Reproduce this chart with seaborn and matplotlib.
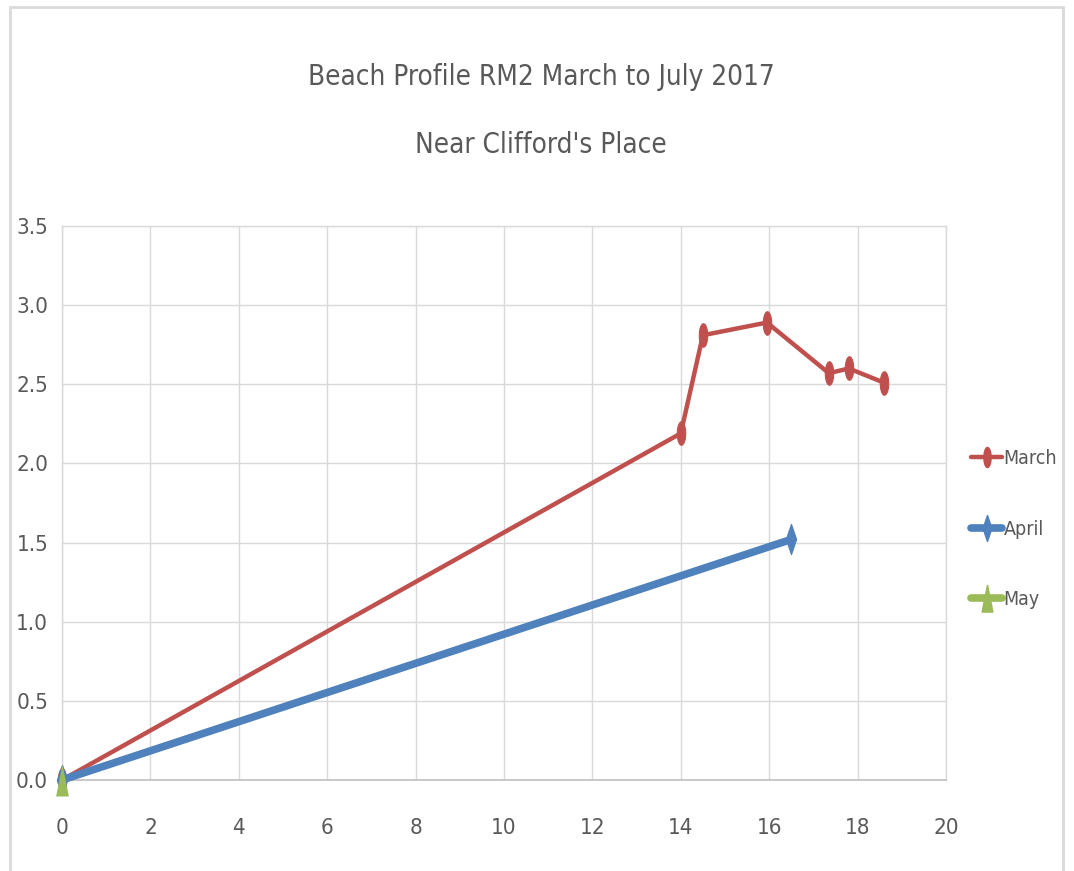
import numpy as np
import pandas as pd
import matplotlib
matplotlib.use('Agg')
import matplotlib.pyplot as plt
from matplotlib.lines import Line2D
from matplotlib.patches import Rectangle
import seaborn as sns

# values
march_x = [0, 14.0, 14.5, 15.95, 17.35, 17.8, 18.6]
march_y = [0, 2.19, 2.81, 2.89, 2.57, 2.60, 2.51]
april_x = [0, 16.5]
april_y = [0, 1.52]
may_x = [0]
may_y = [0]

series_names = ['March', 'April', 'May']
x_ticks = [0, 2, 4, 6, 8, 10, 12, 14, 16, 18, 20]
y_ticks = [0.0, 0.5, 1.0, 1.5, 2.0, 2.5, 3.0, 3.5]

title_lines = ['Beach Profile RM2 March to July 2017', "Near Clifford's Place"]

# squeezed marker shapes (the original is horizontally compressed)
t = np.linspace(0, 2 * np.pi, 40)
ellipse = list(zip(0.36 * np.cos(t), np.sin(t)))
diamond = [(0, 1), (0.34, 0), (0, -1), (-0.34, 0), (0, 1)]
triangle = [(0, 1), (0.4, -1), (-0.4, -1), (0, 1)]

style = {
    'March': {'color': '#C0504D', 'lw': 3.2, 'marker': ellipse, 'ms': 17},
    'April': {'color': '#4F81BD', 'lw': 5.5, 'marker': diamond, 'ms': 22},
    'May': {'color': '#9BBB59', 'lw': 5.5, 'marker': triangle, 'ms': 23},
}

sns.set_theme(style='white')
plt.rcParams['font.family'] = ['DejaVu Sans']
plt.rcParams['font.stretch'] = 'condensed'
text_color = '#595959'

fig = plt.figure(figsize=(10.74, 8.71), dpi=100)
fig.patches.append(Rectangle((10 / 1074, -0.01), 1053 / 1074, 1.01 - 7 / 871,
                             transform=fig.transFigure, fill=False,
                             edgecolor='#d9d9d9', linewidth=2))
ax = fig.add_axes([62 / 1074, 1 - 780 / 871, 884 / 1074, 554 / 871])

data = {
    'March': (march_x, march_y),
    'April': (april_x, april_y),
    'May': (may_x, may_y),
}
for i, name in enumerate(series_names):
    xs, ys = data[name]
    st = style[name]
    df = pd.DataFrame({'x': xs, 'y': ys})
    if len(df) > 1:
        sns.lineplot(data=df, x='x', y='y', ax=ax, sort=False, estimator=None,
                     color=st['color'], linewidth=st['lw'],
                     marker=st['marker'], markersize=st['ms'],
                     markeredgecolor=st['color'], markerfacecolor=st['color'],
                     zorder=3 + i)
    else:
        sns.scatterplot(data=df, x='x', y='y', ax=ax, color=st['color'],
                        marker=st['marker'], s=st['ms'] ** 2, linewidth=0,
                        zorder=3 + i)

ax.set_xlim(0, 20)
ax.set_ylim(0, 3.5)
ax.set_xticks(x_ticks)
ax.set_yticks(y_ticks)
ax.set_xticklabels([str(v) for v in x_ticks])
ax.set_yticklabels([f'{v:.1f}' for v in y_ticks])
ax.tick_params(axis='both', length=0, labelsize=16, labelcolor=text_color)
ax.tick_params(axis='x', pad=27)
ax.tick_params(axis='y', pad=10)
ax.set_xlabel('')
ax.set_ylabel('')
ax.grid(True, color='#d9d9d9', linewidth=1)
ax.set_axisbelow(True)
for side in ['top', 'right', 'left']:
    ax.spines[side].set_color('#d9d9d9')
    ax.spines[side].set_linewidth(1)
ax.spines['bottom'].set_color('#bfbfbf')
ax.spines['bottom'].set_linewidth(1.2)
for c in ax.collections + ax.lines:
    c.set_clip_on(False)

handles = [Line2D([0], [0], color=style[n]['color'], linewidth=style[n]['lw'],
                  marker=style[n]['marker'], markersize=style[n]['ms'] * 0.85)
           for n in series_names]
leg = ax.legend(handles, series_names, loc='center left', bbox_to_anchor=(1.02, 0.453),
                frameon=False, fontsize=14, labelspacing=2.65, handlelength=1.55,
                handletextpad=0.1, labelcolor=text_color, borderaxespad=0)

fig.text(541 / 1074, 1 - 77 / 871, title_lines[0], ha='center', va='center',
         fontsize=20, color=text_color)
fig.text(541 / 1074, 1 - 145 / 871, title_lines[1], ha='center', va='center',
         fontsize=20, color=text_color)

fig.savefig('out.png', dpi=100)
